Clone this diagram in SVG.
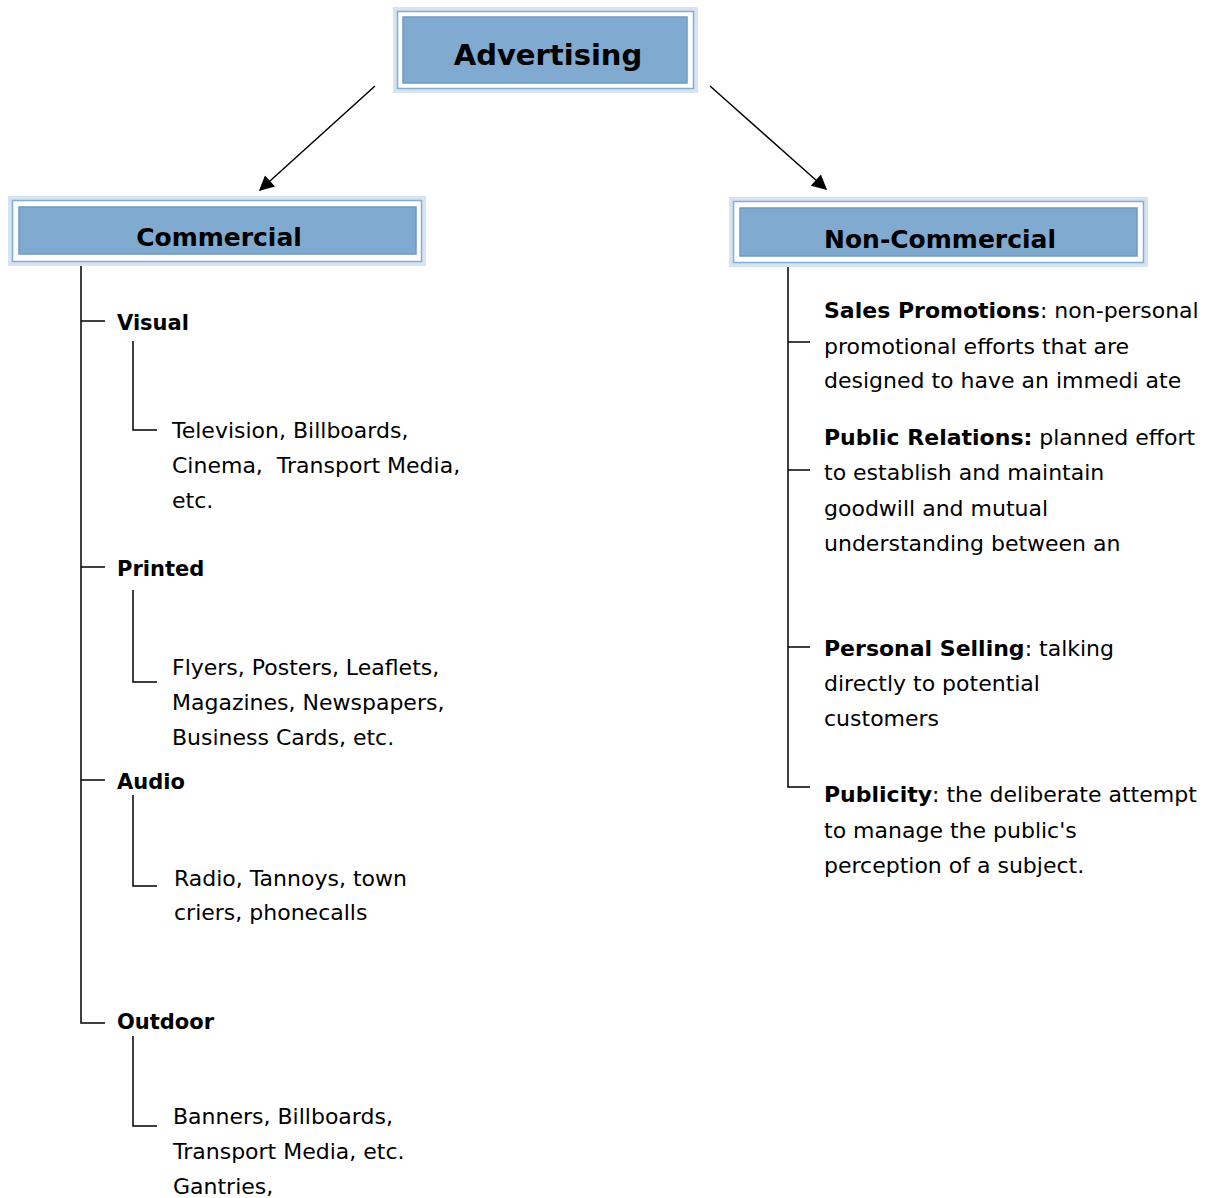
<svg xmlns="http://www.w3.org/2000/svg" width="1230" height="1198" viewBox="0 0 1230 1198">
<style>
  .outer { fill: #d6e3f2; }
  .mid { fill: #ffffff; stroke: #86acd2; stroke-width: 1.5; }
  .inner { fill: #80aacf; stroke: #6d99c5; stroke-width: 1.5; }
  .title { font-family: "DejaVu Sans", sans-serif; font-weight: bold; fill: #000; text-anchor: middle; }
  .t { font-family: "DejaVu Sans", sans-serif; font-size: 22px; fill: #000; }
  .b { font-weight: bold; }
  .h { font-family: "DejaVu Sans", sans-serif; font-size: 21px; font-weight: bold; fill: #000; }
  .ln { stroke: #000; stroke-width: 1.5; fill: none; }
  .arr { stroke: #000; stroke-width: 1.5; fill: none; marker-end: url(#ah); }
</style>
<defs>
  <marker id="ah" viewBox="0 0 10 10" refX="9" refY="5" markerWidth="17" markerHeight="15" markerUnits="userSpaceOnUse" orient="auto">
    <path d="M0,0 L10,5 L0,10 z" fill="#000"/>
  </marker>
</defs>
<rect width="1230" height="1198" fill="#fff"/>

<g id="connectors">
  <line class="arr" x1="375" y1="86" x2="260" y2="190"/>
  <line class="arr" x1="710" y1="86" x2="826" y2="189"/>
  <path class="ln" d="M81,266 V1023 H105"/>
  <line class="ln" x1="81" y1="321" x2="105" y2="321"/>
  <line class="ln" x1="81" y1="567" x2="105" y2="567"/>
  <line class="ln" x1="81" y1="780" x2="105" y2="780"/>
  <path class="ln" d="M133,341 V430 H157"/>
  <path class="ln" d="M133,590 V682 H157"/>
  <path class="ln" d="M133,795 V886 H157"/>
  <path class="ln" d="M133,1036 V1126 H157"/>
  <path class="ln" d="M788,267 V787 H810"/>
  <line class="ln" x1="788" y1="342" x2="810" y2="342"/>
  <line class="ln" x1="788" y1="470" x2="810" y2="470"/>
  <line class="ln" x1="788" y1="647" x2="810" y2="647"/>
</g>

<g id="advertising">
  <rect class="outer" x="393" y="7" width="305" height="86"/>
  <rect class="mid" x="397.5" y="11.5" width="296" height="77"/>
  <rect class="inner" x="403" y="17" width="284" height="66"/>
  <text class="title" x="548" y="65" font-size="29">Advertising</text>
</g>

<g id="commercial">
  <rect class="outer" x="8" y="196" width="418" height="70"/>
  <rect class="mid" x="12.5" y="200.5" width="409" height="61"/>
  <rect class="inner" x="19" y="207" width="397" height="47"/>
  <text class="title" x="219" y="246" font-size="25">Commercial</text>
</g>

<g id="non-commercial">
  <rect class="outer" x="729" y="197" width="419" height="70"/>
  <rect class="mid" x="733.5" y="201.5" width="410" height="61"/>
  <rect class="inner" x="740" y="208" width="397" height="48"/>
  <text class="title" x="940" y="248" font-size="25">Non-Commercial</text>
</g>

<g id="visual">
  <text class="h" x="117" y="330">Visual</text>
  <text class="t" x="172" y="438">Television, Billboards,</text>
  <text class="t" x="172" y="473" xml:space="preserve">Cinema,  Transport Media,</text>
  <text class="t" x="172" y="508">etc.</text>
</g>

<g id="printed">
  <text class="h" x="117" y="576">Printed</text>
  <text class="t" x="172" y="675">Flyers, Posters, Leaflets,</text>
  <text class="t" x="172" y="710">Magazines, Newspapers,</text>
  <text class="t" x="172" y="745">Business Cards, etc.</text>
</g>

<g id="audio">
  <text class="h" x="117" y="789">Audio</text>
  <text class="t" x="174" y="886">Radio, Tannoys, town</text>
  <text class="t" x="174" y="920">criers, phonecalls</text>
</g>

<g id="outdoor">
  <text class="h" x="117" y="1029">Outdoor</text>
  <text class="t" x="173" y="1124">Banners, Billboards,</text>
  <text class="t" x="173" y="1159">Transport Media, etc.</text>
  <text class="t" x="173" y="1194">Gantries,</text>
</g>

<g id="sales-promotions">
  <text class="t" x="824" y="318"><tspan class="b">Sales Promotions</tspan>: non-personal</text>
  <text class="t" x="824" y="354">promotional efforts that are</text>
  <text class="t" x="824" y="388">designed to have an immedi ate</text>
</g>

<g id="public-relations">
  <text class="t" x="824" y="445"><tspan class="b">Public Relations:</tspan> planned effort</text>
  <text class="t" x="824" y="480">to establish and maintain</text>
  <text class="t" x="824" y="516">goodwill and mutual</text>
  <text class="t" x="824" y="551">understanding between an</text>
</g>

<g id="personal-selling">
  <text class="t" x="824" y="656"><tspan class="b">Personal Selling</tspan>: talking</text>
  <text class="t" x="824" y="691">directly to potential</text>
  <text class="t" x="824" y="726">customers</text>
</g>

<g id="publicity">
  <text class="t" x="824" y="802"><tspan class="b">Publicity</tspan>: the deliberate attempt</text>
  <text class="t" x="824" y="838">to manage the public's</text>
  <text class="t" x="824" y="873">perception of a subject.</text>
</g>
</svg>
